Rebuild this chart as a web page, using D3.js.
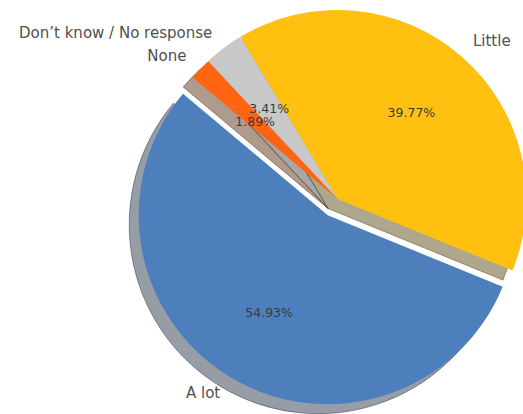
<!DOCTYPE html>
<html>
<head>
<meta charset="utf-8">
<script src="https://cdn.jsdelivr.net/npm/d3@7/dist/d3.min.js"></script>
<style>
  html, body { margin: 0; padding: 0; background: #fff; }
  svg { display: block; }
</style>
</head>
<body>
<svg id="chart" width="523" height="414"></svg>
<script>
// ---- data ----
const categories = ["A lot", "Little", "Don\u2019t know / No response", "None"];
const values = [54.93, 39.77, 3.41, 1.89];
const explode = [0.1, 0, 0, 0];
const colors = ["#4d7fbd", "#ffc010", "#c8c8c8", "#ff6410"];

// ---- layout ----
const W = 523, H = 414;
const cx = 337.5, cy = 199, R = 189;
const startDeg = 140;          // matplotlib-style start angle (CCW from +x)
const shadowOff = 9.5;

const svg = d3.select("#chart");
const g = svg.append("g").attr("transform", `translate(${cx},${cy})`);

const toRad = d => d * Math.PI / 180;
// d3 angles: 0 at top, clockwise. CCW sweep => decreasing d3 angle.
const a0 = toRad(90 - startDeg);
const pie = d3.pie().sort(null).value(d => d.v)
  .startAngle(a0).endAngle(a0 - 2 * Math.PI);

const data = categories.map((c, i) => ({ c, v: values[i], i }));
const arcs = pie(data);
const arc = d3.arc().innerRadius(0).outerRadius(R);

function dirOf(d) {
  const m = (d.startAngle + d.endAngle) / 2;
  return [Math.sin(m), -Math.cos(m)];
}
function offsetOf(d) {
  const [dx, dy] = dirOf(d);
  const e = explode[d.data.i] * R;
  return [dx * e, dy * e];
}

// shadows (darkened, semi-transparent), below all wedges
const shade = c => {
  const k = d3.rgb(c);
  return d3.rgb(k.r * 0.3, k.g * 0.3, k.b * 0.3).toString();
};
g.append("g").selectAll("path").data(arcs).join("path")
  .attr("d", arc)
  .attr("transform", d => {
    const [ox, oy] = offsetOf(d);
    return `translate(${ox - shadowOff},${oy + shadowOff})`;
  })
  .attr("fill", d => shade(colors[d.data.i]))
  .attr("stroke", d => shade(colors[d.data.i]))
  .attr("stroke-width", 1)
  .attr("fill-opacity", 0.45)
  .attr("stroke-opacity", 0.45);

// wedges
g.append("g").selectAll("path").data(arcs).join("path")
  .attr("d", arc)
  .attr("transform", d => {
    const [ox, oy] = offsetOf(d);
    return `translate(${ox},${oy})`;
  })
  .attr("fill", d => colors[d.data.i]);

// outer labels
g.append("g").selectAll("text").data(arcs).join("text")
  .attr("x", d => { const [dx] = dirOf(d); const [ox] = offsetOf(d); return ox + dx * R * 1.1; })
  .attr("y", d => { const [, dy] = dirOf(d); const [, oy] = offsetOf(d); return oy + dy * R * 1.1; })
  .attr("text-anchor", d => dirOf(d)[0] > 0 ? "start" : "end")
  .attr("dominant-baseline", "central")
  .attr("font-family", "DejaVu Sans, sans-serif")
  .attr("font-size", 15)
  .attr("fill", "#505050")
  .text(d => d.data.c);

// percentage labels
g.append("g").selectAll("text").data(arcs).join("text")
  .attr("x", d => { const [dx] = dirOf(d); const [ox] = offsetOf(d); return ox + dx * R * 0.6; })
  .attr("y", d => { const [, dy] = dirOf(d); const [, oy] = offsetOf(d); return oy + dy * R * 0.6; })
  .attr("text-anchor", "middle")
  .attr("dominant-baseline", "central")
  .attr("font-family", "DejaVu Sans, sans-serif")
  .attr("font-size", 12.5)
  .attr("fill", "#3a3a3a")
  .text(d => d.data.v.toFixed(2) + "%");
</script>
</body>
</html>
